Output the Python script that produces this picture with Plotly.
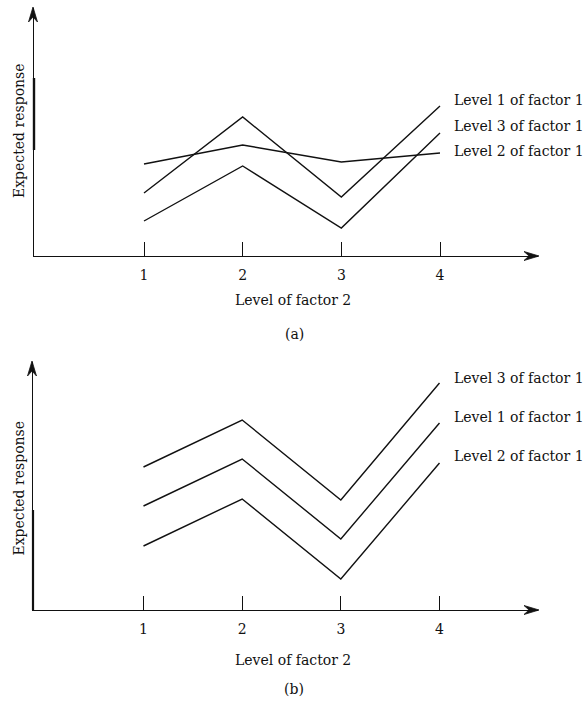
import plotly.graph_objects as go

# ---- data ----
levels_f2 = [1, 2, 3, 4]
tick_text = ["1", "2", "3", "4"]

# panel (a)
a_names = ["Level 1 of factor 1", "Level 3 of factor 1", "Level 2 of factor 1"]
a_level1 = [6.3, 13.9, 5.9, 15.0]
a_level3 = [3.5, 9.0, 2.8, 12.3]
a_level2 = [9.2, 11.1, 9.4, 10.3]
a_label_y = [100, 126, 151]  # label anchor rows (px from top)

# panel (b)
b_names = ["Level 3 of factor 1", "Level 1 of factor 1", "Level 2 of factor 1"]
b_level3 = [14.3, 19.0, 11.0, 22.7]
b_level1 = [10.4, 15.1, 7.1, 18.7]
b_level2 = [6.4, 11.1, 3.1, 14.7]
b_label_y = [378, 417, 456]

W, H = 587, 702
FONT = "DejaVu Serif"
FS = 14
BLACK = "#111111"

fig = go.Figure()

line_style = dict(color=BLACK, width=1.4)
for ys in (a_level1, a_level3, a_level2):
    fig.add_trace(go.Scatter(x=levels_f2, y=ys, mode="lines", line=line_style,
                             xaxis="x", yaxis="y", showlegend=False, hoverinfo="skip"))
for ys in (b_level3, b_level1, b_level2):
    fig.add_trace(go.Scatter(x=levels_f2, y=ys, mode="lines", line=line_style,
                             xaxis="x2", yaxis="y2", showlegend=False, hoverinfo="skip"))

px_per_level = (440 - 144) / 3.0

def xrange_for(x_start_px, x_end_px, x1_px):
    return [1 + (x_start_px - x1_px) / px_per_level, 1 + (x_end_px - x1_px) / px_per_level]

xr_a = xrange_for(33, 538, 144)
xr_b = xrange_for(32, 538, 143.5)
YMAX = 24.8

common_x = dict(showgrid=False, zeroline=False, showline=True, linecolor=BLACK, linewidth=1.4,
                ticks="inside", ticklen=14, tickwidth=1.1, tickcolor=BLACK,
                tickvals=levels_f2, ticktext=tick_text, ticklabelstandoff=6,
                tickfont=dict(family=FONT, size=FS, color=BLACK), anchor="free", fixedrange=True)
common_y = dict(showgrid=False, zeroline=False, showline=True, linecolor=BLACK, linewidth=1.4,
                showticklabels=False, ticks="", anchor="free", range=[0, YMAX], fixedrange=True)

fig.update_layout(
    width=W, height=H, autosize=False,
    margin=dict(l=0, r=0, t=0, b=0),
    paper_bgcolor="white", plot_bgcolor="white",
    xaxis=dict(domain=[33 / W, 538 / W], position=1 - 256 / H, range=xr_a, **common_x),
    yaxis=dict(domain=[1 - 256 / H, 1 - 8 / H], position=33 / W, **common_y),
    xaxis2=dict(domain=[32 / W, 538 / W], position=1 - 610 / H, range=xr_b, **common_x),
    yaxis2=dict(domain=[1 - 610 / H, 1 - 362 / H], position=32 / W, **common_y),
)

# arrowheads at the axis ends (paper-referenced so they are not clipped)
def arrow_x(xpaper, ypaper):
    return dict(type="path", xref="paper", yref="paper", xsizemode="pixel", ysizemode="pixel",
                xanchor=xpaper, yanchor=ypaper, path="M1,0 L-14,4.5 L-9,0 L-14,-4.5 Z",
                fillcolor=BLACK, line=dict(color=BLACK, width=0.8))

def arrow_y(xpaper, ypaper):
    return dict(type="path", xref="paper", yref="paper", xsizemode="pixel", ysizemode="pixel",
                xanchor=xpaper, yanchor=ypaper, path="M0,1 L-4.5,-14 L0,-9 L4.5,-14 Z",
                fillcolor=BLACK, line=dict(color=BLACK, width=0.8))

shapes = [arrow_x(538 / W, 1 - 256 / H), arrow_y(33 / W, 1 - 8 / H),
          arrow_x(538 / W, 1 - 610 / H), arrow_y(32 / W, 1 - 362 / H)]
# slightly heavier stretches of the vertical axes (as printed)
shapes.append(dict(type="line", xref="paper", yref="paper", x0=34 / W, x1=34 / W,
                   y0=1 - 150 / H, y1=1 - 78 / H, line=dict(color=BLACK, width=2.4)))
shapes.append(dict(type="line", xref="paper", yref="paper", x0=33 / W, x1=33 / W,
                   y0=1 - 610 / H, y1=1 - 510 / H, line=dict(color=BLACK, width=2.2)))
fig.update_layout(shapes=shapes)

font = dict(family=FONT, size=FS, color=BLACK)
ann = []
for name, ypx in zip(a_names, a_label_y):
    ann.append(dict(text=name, xref="paper", yref="paper", x=452 / W, y=1 - ypx / H,
                    xanchor="left", yanchor="middle", showarrow=False, font=font))
for name, ypx in zip(b_names, b_label_y):
    ann.append(dict(text=name, xref="paper", yref="paper", x=452 / W, y=1 - ypx / H,
                    xanchor="left", yanchor="middle", showarrow=False, font=font))
for ycen in (130.5, 488):
    ann.append(dict(text="Expected response", xref="paper", yref="paper", x=18.5 / W, y=1 - ycen / H,
                    xanchor="center", yanchor="middle", textangle=-90, showarrow=False, font=font))
for ycen in (300, 660):
    ann.append(dict(text="Level of factor 2", xref="paper", yref="paper", x=293 / W, y=1 - ycen / H,
                    xanchor="center", yanchor="middle", showarrow=False, font=font))
ann.append(dict(text="(a)", xref="paper", yref="paper", x=295 / W, y=1 - 334 / H,
                xanchor="center", yanchor="middle", showarrow=False, font=font))
ann.append(dict(text="(b)", xref="paper", yref="paper", x=294 / W, y=1 - 689 / H,
                xanchor="center", yanchor="middle", showarrow=False, font=font))
fig.update_layout(annotations=ann)

fig.write_html("out.html", config={"displayModeBar": False},
               post_script="document.body.style.margin='0px';document.body.style.overflow='hidden';")
